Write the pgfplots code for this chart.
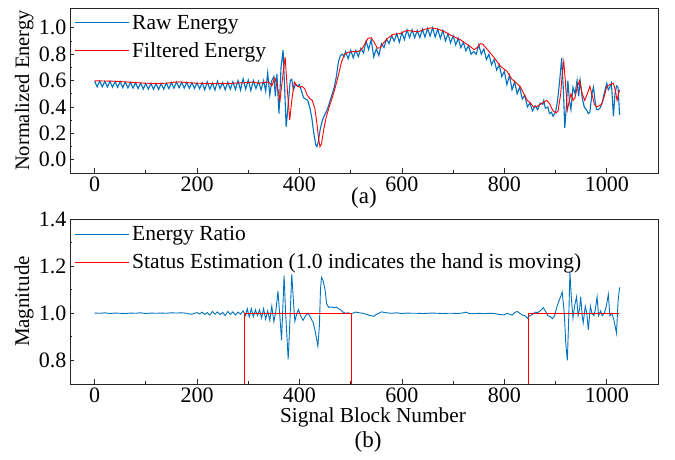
\documentclass[border=0pt]{standalone}
\usepackage{fontspec}
\setmainfont{Liberation Serif}
\usepackage{pgfplots}
\pgfplotsset{compat=1.18}
\definecolor{cblue}{RGB}{0,114,189}
\definecolor{cred}{RGB}{255,0,0}
\pgfplotsset{
  legend image code/.code={\path (0pt,0pt) -- (54pt,0pt);\draw[#1] (0pt,0pt) -- (50pt,0pt);},
  myax/.style={
    scale only axis, width=588pt, height=165pt,
    xmin=-48, xmax=1100,
    axis line style={line width=0.9pt, black!85},
    tick align=inside, xtick pos=bottom, ytick pos=left,
    major tick length=4.5pt, minor tick length=2.5pt,
    tick style={line width=0.8pt, black!85},
    xtick={0,200,...,1000}, minor x tick num=1,
    minor y tick num=1,
    tick label style={font=\fontsize{22}{24}\selectfont},
    /pgf/number format/assume math mode=true,
    /pgf/number format/1000 sep={},
    yticklabel style={/pgf/number format/fixed,/pgf/number format/fixed zerofill,/pgf/number format/precision=1},
    legend style={draw=none, fill=none, at={(axis description cs:0,1)}, anchor=north west,
      xshift=3pt, yshift=-3pt, row sep=6pt, inner sep=1pt, font=\fontsize{21.5}{23}\selectfont,
      nodes={inner sep=3pt}},
    legend image post style={line width=1pt},
    legend cell align=left,
  }
}
\begin{document}
\begin{tikzpicture}[font=\fontsize{21.5}{24}\selectfont]
\useasboundingbox (-70pt,-287pt) rectangle (605pt,173pt);
\begin{axis}[myax, at={(0pt,0pt)}, anchor=south west,
  ymin=-0.1, ymax=1.15, ytick={0,0.2,...,1.0},
  ylabel={Normalized Energy},
  ylabel style={at={(axis description cs:-0.078,0.5)}, anchor=center, font=\fontsize{20.5}{22}\selectfont}]
\addplot[cblue, line width=1.1pt] coordinates {
(0,0.597)(5,0.553)(10,0.596)(15,0.552)(20,0.595)(25,0.551)(30,0.594)(35,0.550)(40,0.593)(45,0.549)
(50,0.592)(55,0.547)(60,0.589)(65,0.544)(70,0.587)(75,0.542)(80,0.584)(85,0.539)(90,0.582)(95,0.536)
(100,0.579)(105,0.535)(110,0.578)(115,0.534)(120,0.577)(125,0.533)(130,0.577)(135,0.535)(140,0.581)(145,0.539)
(150,0.585)(155,0.543)(160,0.589)(165,0.545)(170,0.588)(175,0.543)(180,0.586)(185,0.541)(190,0.584)(195,0.540)
(200,0.583)(205,0.539)(210,0.583)(215,0.530)(220,0.590)(225,0.535)(230,0.582)(235,0.528)(240,0.595)(245,0.540)
(250,0.585)(255,0.530)(260,0.588)(265,0.535)(270,0.592)(275,0.532)(280,0.600)(285,0.528)(290,0.615)(295,0.535)
(300,0.605)(305,0.525)(310,0.600)(315,0.540)(320,0.595)(325,0.530)
(330,0.60)(334,0.52)(338,0.66)(342,0.49)(346,0.60)(350,0.63)(353,0.48)(356,0.65)(360,0.35)(364,0.70)
(368,0.83)(371,0.55)(374,0.25)(378,0.42)(382,0.60)(385,0.61)(388,0.53)(392,0.57)(396,0.56)(400,0.57)
(404,0.52)(408,0.47)(412,0.46)(416,0.45)(420,0.40)(424,0.32)(428,0.20)(432,0.11)(434,0.10)(437,0.14)
(440,0.22)(444,0.29)(448,0.33)(452,0.36)(456,0.40)(460,0.45)(464,0.50)(468,0.55)(472,0.63)(476,0.74)
(480,0.79)(484,0.80)(487,0.78)
(490,0.82)(495,0.765)(500,0.83)(505,0.772)(510,0.83)(515,0.782)(520,0.845)(525,0.81)(530,0.90)(535,0.835)
(540,0.91)(545,0.78)(550,0.84)(555,0.79)(560,0.88)(565,0.85)(570,0.915)(575,0.88)(580,0.94)(585,0.90)
(590,0.955)(595,0.89)(600,0.965)(605,0.91)(610,0.985)(615,0.925)(620,0.985)(625,0.925)(630,0.98)(635,0.925)
(640,0.99)(645,0.93)(650,0.995)(655,0.936)(660,1.0)(665,0.93)(670,0.99)(675,0.92)(680,0.98)(685,0.90)
(690,0.955)(695,0.885)(700,0.94)(705,0.87)(710,0.92)(715,0.85)(720,0.89)(725,0.825)(730,0.865)(735,0.80)
(740,0.82)(745,0.80)(750,0.87)(755,0.80)(760,0.84)(765,0.76)(770,0.80)(775,0.72)(780,0.76)(785,0.68)
(790,0.72)(795,0.63)(800,0.67)(805,0.57)(810,0.64)(815,0.53)(820,0.59)(825,0.50)(830,0.55)(835,0.46)
(840,0.49)(845,0.40)(850,0.43)(855,0.37)(860,0.41)(865,0.38)(870,0.43)(875,0.42)(877,0.45)(880,0.39)
(885,0.40)(888,0.35)(892,0.36)(895,0.33)
(900,0.36)(904,0.45)(908,0.60)(912,0.77)(915,0.55)(918,0.24)(921,0.40)(924,0.60)(927,0.45)(930,0.38)
(934,0.55)(938,0.50)(942,0.60)(945,0.48)(948,0.60)(952,0.47)(956,0.40)(960,0.38)(964,0.35)(967,0.36)
(971,0.50)(974,0.55)(977,0.45)(980,0.38)(984,0.38)(988,0.40)(992,0.45)(996,0.52)(1000,0.58)(1003,0.53)
(1006,0.55)(1009,0.58)(1013,0.33)(1016,0.50)(1019,0.56)(1022,0.55)(1025,0.34)
};
\addlegendentry{Raw Energy}
\addplot[cred, line width=0.9pt] coordinates {
(0,0.598)(20,0.597)(40,0.595)(60,0.59)(80,0.585)(100,0.58)(120,0.578)(140,0.58)(155,0.588)(165,0.59)
(180,0.585)(200,0.58)(230,0.578)(260,0.578)(280,0.582)(300,0.585)(310,0.59)(320,0.58)(330,0.585)(340,0.59)
(346,0.56)(352,0.62)(357,0.55)(362,0.45)(367,0.62)(372,0.78)(376,0.55)(381,0.30)(385,0.45)(390,0.59)
(395,0.56)(400,0.55)(405,0.555)(410,0.54)(415,0.49)(420,0.465)(425,0.45)(430,0.39)(434,0.28)(437,0.17)
(440,0.10)(443,0.12)(447,0.22)(452,0.32)(458,0.40)(464,0.47)(470,0.55)(476,0.64)(482,0.74)(488,0.80)
(495,0.815)(505,0.82)(515,0.82)(522,0.84)(528,0.88)(534,0.92)(540,0.925)(546,0.89)(552,0.845)(558,0.85)
(565,0.89)(572,0.92)(583,0.95)(596,0.956)(609,0.98)(620,0.975)(632,0.97)(645,0.99)(658,1.0)(670,0.99)
(681,0.975)(695,0.945)(714,0.91)(723,0.885)(733,0.86)(741,0.834)(747,0.85)(753,0.88)(758,0.875)(768,0.83)
(779,0.78)(792,0.71)(805,0.67)(815,0.61)(824,0.58)(831,0.555)(838,0.50)(845,0.45)(851,0.43)(857,0.40)
(864,0.405)(870,0.42)(878,0.44)(883,0.45)(889,0.42)(895,0.37)(901,0.356)(905,0.37)(910,0.50)(913,0.65)
(916,0.745)(919,0.60)(923,0.376)(927,0.45)(930,0.50)(934,0.45)(938,0.47)(942,0.55)(947,0.60)(952,0.50)
(957,0.45)(962,0.50)(967,0.556)(972,0.48)(976,0.42)(980,0.40)(985,0.41)(990,0.42)(995,0.48)(1000,0.556)
(1006,0.57)(1013,0.58)(1017,0.52)(1020,0.45)(1025,0.53)
};
\addlegendentry{Filtered Energy}
\end{axis}
\node[font=\fontsize{23}{25}\selectfont] at (294pt,-25pt) {(a)};
\begin{axis}[myax, at={(0pt,-211pt)}, anchor=south west,
  ymin=0.7, ymax=1.4, ytick={0.8,1.0,1.2,1.4},
  ylabel={Magnitude},
  ylabel style={at={(axis description cs:-0.078,0.5)}, anchor=center, font=\fontsize{21}{23}\selectfont}]
\addplot[cblue, line width=0.9pt] coordinates {
(0,1.001)(10,1.0)(20,1.002)(30,0.999)(40,1.001)(50,1.0)(60,0.999)(70,1.001)(80,1.0)(90,1.002)
(100,0.999)(110,1.001)(120,1.0)(130,1.001)(140,1.0)(150,1.002)(160,1.001)(170,1.002)(180,1.0)(185,0.997)
(190,0.996)(195,1.0)(200,1.003)(205,0.997)(210,1.005)(215,0.995)(220,1.003)(225,0.992)(230,1.008)(235,0.996)
(240,1.006)(245,0.994)(250,1.004)(255,0.99)(260,1.008)(265,0.995)(270,1.006)(275,0.993)(280,1.005)(285,0.996)
(290,1.01)(295,0.99)(298,1.02)(302,0.985)(306,1.02)(310,0.985)(314,1.015)(318,0.99)(322,1.015)(326,0.98)
(330,1.02)(334,0.975)(338,1.01)(342,0.97)(346,1.03)(350,0.965)(354,1.01)(358,1.094)(362,0.98)(365,0.885)
(368,1.05)(370,1.16)(373,1.0)(378,0.805)(381,0.95)(385,1.166)(388,1.06)(391,0.966)(395,1.0)(398,1.016)
(402,0.99)(407,0.97)(412,0.99)(417,1.0)(422,0.98)(427,0.96)(431,0.92)(436,0.86)(439,0.95)(441,1.10)
(443,1.152)(446,1.14)(450,1.10)(453,1.04)(457,1.025)(462,1.027)(467,1.024)(472,1.026)(476,1.02)(480,1.015)
(485,1.005)(490,1.0)(495,1.002)(500,0.998)(506,1.002)(510,1.005)(515,1.003)(520,1.001)(525,1.0)(530,0.996)
(535,0.992)(540,0.99)(545,0.987)(550,0.995)(555,1.0)(560,1.006)(570,1.002)(580,1.0)(590,1.002)(600,0.999)
(610,1.001)(620,1.0)(630,1.0)(640,0.999)(650,1.0)(660,1.001)(670,1.0)(680,0.999)(690,1.0)(700,1.0)
(710,0.999)(720,1.002)(725,1.005)(730,1.0)(740,0.998)(750,1.0)(760,0.998)(770,1.0)(780,0.999)(790,0.995)
(800,0.993)(805,1.0)(810,0.996)(815,0.992)(820,1.003)(825,1.008)(830,1.0)(835,0.993)(840,0.99)(845,0.979)
(850,0.99)(855,0.995)(860,1.005)(865,1.003)(870,1.01)(876,1.024)(880,1.01)(885,0.99)(890,0.985)(894,0.977)
(898,0.99)(903,1.03)(908,1.06)(913,1.09)(917,1.0)(920,0.87)(923,0.80)(926,1.0)(928,1.174)(931,1.06)
(934,0.98)(937,1.03)(941,1.07)(944,0.99)(947,1.02)(949,1.07)(952,0.99)(954,0.96)(958,1.03)(961,1.0)
(964,0.93)(968,1.03)(971,1.0)(975,0.99)(978,1.02)(981,1.07)(984,0.99)(988,1.01)(991,0.99)(995,1.0)
(999,1.03)(1003,1.08)(1006,0.99)(1010,1.0)(1014,0.97)(1019,0.916)(1022,1.05)(1025,1.11)
};
\addlegendentry{Energy Ratio}
\addplot[cred, line width=0.9pt] coordinates {
(0,0)(293,0)(293,1)(502,1)(502,0)(848,0)(848,1)(1023,1)
};
\addlegendentry{Status Estimation (1.0 indicates the hand is moving)}
\end{axis}
\node[font=\fontsize{21.3}{23}\selectfont] at (303pt,-244pt) {Signal Block Number};
\node[font=\fontsize{23}{25}\selectfont] at (298pt,-269pt) {(b)};
\end{tikzpicture}
\end{document}
